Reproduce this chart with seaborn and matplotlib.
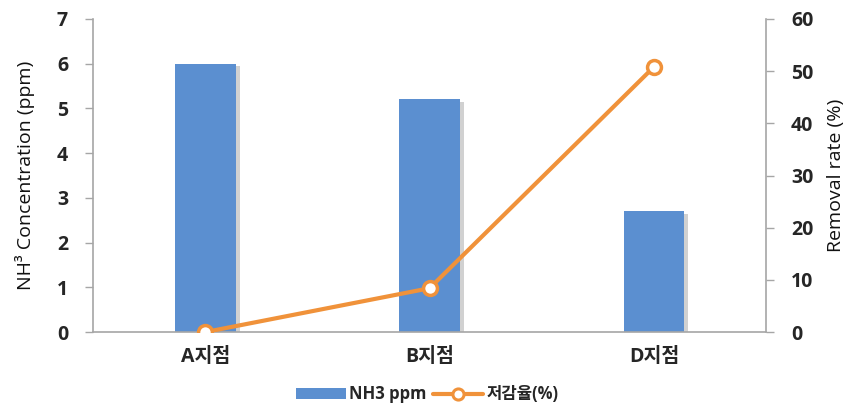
import matplotlib
matplotlib.use("Agg")
import matplotlib.pyplot as plt
import matplotlib.patheffects as pe
import seaborn as sns
from matplotlib.lines import Line2D
from matplotlib.patches import Patch

# Sampling sites, NH3 concentration (ppm) and removal rate (%)
sites = ["A지점", "B지점", "D지점"]
nh3_ppm = [6.0, 5.2, 2.7]
removal_rate = [0.0, 8.4, 50.8]

bar_color = "#5B8FD0"
line_color = "#F0923A"
spine_color = "#A6A6A6"
fam = ["Open Sans", "Noto Sans CJK KR", "DejaVu Sans"]

sns.set_style("white")
plt.rcParams["font.family"] = fam

fig = plt.figure(figsize=(8.54, 4.12), dpi=100)
ax = fig.add_axes([0.109, 0.194, 0.788, 0.760])

sns.barplot(x=sites, y=nh3_ppm, ax=ax, color=bar_color, width=0.27,
            saturation=1, edgecolor="none")
for p in ax.patches:
    p.set_path_effects([pe.SimplePatchShadow(offset=(3, -2), shadow_rgbFace="#999999", alpha=0.45),
                        pe.Normal()])

ax.set_xlim(-0.5, 2.5)
ax.set_ylim(0, 7)
ax.set_yticks(range(0, 8))
ax.set_ylabel("NH³ Concentration (ppm)", fontsize=14, labelpad=16, color="#111111")
ax.set_xlabel("")

ax2 = ax.twinx()
sns.lineplot(x=sites, y=removal_rate, ax=ax2, color=line_color, linewidth=3,
             marker="o", markersize=10, markerfacecolor="white",
             markeredgecolor=line_color, markeredgewidth=2.5, zorder=5)
ax2.set_ylim(0, 60)
ax2.set_yticks(range(0, 61, 10))
ax2.set_ylabel("Removal rate (%)", fontsize=14, labelpad=10, color="#111111")

for a in (ax, ax2):
    for s in a.spines.values():
        s.set_color(spine_color)
        s.set_linewidth(1.2)
    a.spines["top"].set_visible(False)
    a.tick_params(axis="y", length=6, width=1, color=spine_color, labelsize=14, pad=12)
    for lab in a.get_yticklabels():
        lab.set_fontweight("bold")
ax.spines["right"].set_visible(False)
ax2.spines["left"].set_visible(False)
ax2.spines["bottom"].set_visible(False)
ax.tick_params(axis="x", length=0, labelsize=14, pad=11)
for lab in ax.get_xticklabels():
    lab.set_fontweight("bold")

handles = [
    Patch(facecolor=bar_color, edgecolor="none"),
    Line2D([0], [0], color=line_color, linewidth=3, marker="o", markersize=8,
           markerfacecolor="white", markeredgecolor=line_color, markeredgewidth=2.2),
]
fig.legend(handles, ["NH3 ppm", "저감율(%)"], loc="lower center",
           bbox_to_anchor=(0.5, -0.015), ncol=2, frameon=False,
           prop={"family": fam, "weight": "bold", "size": 12},
           handlelength=3.0, handleheight=0.6, columnspacing=0.4, handletextpad=0.2)

fig.savefig("out.png", dpi=100)
